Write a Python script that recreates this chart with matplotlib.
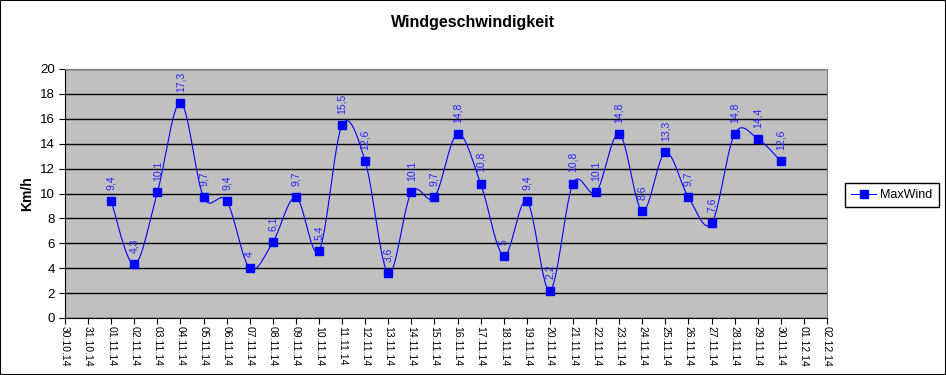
import matplotlib
matplotlib.use('Agg')
import matplotlib.pyplot as plt
import numpy as np
import pandas as pd
from matplotlib.patches import Rectangle

plt.rcParams['font.family'] = ['Liberation Sans', 'DejaVu Sans']

# axis days 30.10.14 .. 02.12.14, data from 01.11 to 30.11
day_labels = [d.strftime('%d.%m.%y') for d in pd.date_range('2014-10-30', '2014-12-02')]
wind_days = list(range(2, 32))
max_wind = [9.4, 4.3, 10.1, 17.3, 9.7, 9.4, 4.0, 6.1, 9.7, 5.4,
            15.5, 12.6, 3.6, 10.1, 9.7, 14.8, 10.8, 5.0, 9.4, 2.2,
            10.8, 10.1, 14.8, 8.6, 13.3, 9.7, 7.6, 14.8, 14.4, 12.6]
wind_text = ['9,4', '4,3', '10,1', '17,3', '9,7', '9,4', '4', '6,1', '9,7', '5,4',
             '15,5', '12,6', '3,6', '10,1', '9,7', '14,8', '10,8', '5', '9,4', '2,2',
             '10,8', '10,1', '14,8', '8,6', '13,3', '9,7', '7,6', '14,8', '14,4', '12,6']


def smooth(xs, ys, n=30):
    # Excel-like smoothing: cubic bezier with catmull-rom control points
    xs = np.asarray(xs, float)
    ys = np.asarray(ys, float)
    px, py = [], []
    for i in range(len(xs) - 1):
        i0 = max(i - 1, 0)
        i3 = min(i + 2, len(xs) - 1)
        p0 = np.array([xs[i], ys[i]])
        p3 = np.array([xs[i + 1], ys[i + 1]])
        c1 = p0 + (p3 - np.array([xs[i0], ys[i0]])) / 6
        c2 = p3 - (np.array([xs[i3], ys[i3]]) - p0) / 6
        t = np.linspace(0, 1, n)[:, None]
        seg = (1 - t) ** 3 * p0 + 3 * (1 - t) ** 2 * t * c1 + 3 * (1 - t) * t ** 2 * c2 + t ** 3 * p3
        px.extend(seg[:, 0])
        py.extend(seg[:, 1])
    return px, py


fig = plt.figure(figsize=(9.46, 3.75), dpi=100)
fig.patches.append(Rectangle((0, 0), 1, 1, transform=fig.transFigure, fill=False,
                             edgecolor='black', linewidth=1.5))
ax = fig.add_axes([65 / 946, 1 - 318 / 375, 762 / 946, 249 / 375])
ax.set_facecolor('#C0C0C0')

sx, sy = smooth(wind_days, max_wind)
ax.plot(sx, sy, color='#0000FF', linewidth=0.8, zorder=3)
ax.plot(wind_days, max_wind, linestyle='none', marker='s', markersize=5.8,
        color='#0000FF', zorder=4)
ax.plot([], [], color='#0000FF', linewidth=0.8, marker='s', markersize=5.8,
        label='MaxWind')

for x, y, t in zip(wind_days, max_wind, wind_text):
    ax.annotate(t, xy=(x, y), xytext=(0, 8), textcoords='offset points',
                rotation=90, ha='center', va='bottom', fontsize=7.5, color='#2222FF')

ax.set_xlim(0, len(day_labels) - 1)
ax.set_ylim(0, 20)
ax.set_yticks(np.arange(0, 21, 2))
ax.set_xticks(np.arange(len(day_labels)))
ax.set_xticklabels(day_labels, rotation=-90, fontsize=7.5)
ax.tick_params(axis='y', labelsize=9.5, length=4, direction='out')
ax.tick_params(axis='x', length=4, direction='out', pad=2)
ax.grid(axis='y', color='black', linewidth=1)
ax.set_axisbelow(True)
for s in ['top', 'right']:
    ax.spines[s].set_color('#808080')
for s in ['left', 'bottom']:
    ax.spines[s].set_color('black')

ax.set_ylabel('Km/h', fontsize=10, fontweight='bold', labelpad=4)
fig.text(0.5, 1 - 22 / 375, 'Windgeschwindigkeit', ha='center', va='center',
         fontsize=11.5, fontweight='bold')

leg = ax.legend(loc='center left', bbox_to_anchor=(845 / 946, 1 - 195 / 375),
                bbox_transform=fig.transFigure, fontsize=9, fancybox=False,
                framealpha=1, edgecolor='black', handlelength=2.0,
                borderpad=0.5, handletextpad=0.3, borderaxespad=0)
leg.get_frame().set_linewidth(1)

fig.savefig('out.png', dpi=100)
